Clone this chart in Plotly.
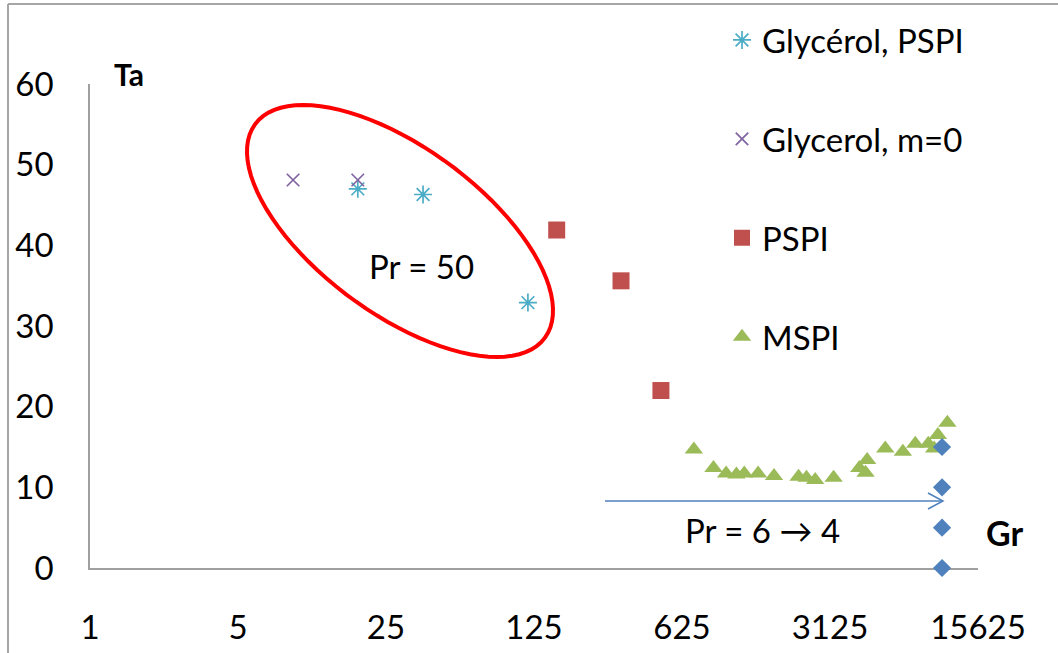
import math
import plotly.graph_objects as go

# ---- data -------------------------------------------------------------
gly_pspi_gr = [18.4, 37.4, 117]
gly_pspi_ta = [47.0, 46.3, 32.9]

gly_m0_gr = [9.1, 18.4]
gly_m0_ta = [48.1, 48.1]

pspi_gr = [160, 322, 497]
pspi_ta = [41.9, 35.6, 22.0]

mspi_gr = [711, 880, 1010, 1130, 1230, 1430, 1700, 2220, 2420, 2660, 3250,
           4300, 4600, 4680, 5700, 6900, 7900, 9100, 9700, 10100, 11200]
mspi_ta = [14.7, 12.4, 11.7, 11.6, 11.7, 11.7, 11.4, 11.3, 11.2, 10.9, 11.2,
           12.4, 11.8, 13.4, 14.8, 14.4, 15.4, 15.4, 14.8, 16.5, 18.0]

ref_gr = [10570, 10570, 10570, 10570]
ref_ta = [0, 5, 10, 15]

x_ticks = [1, 5, 25, 125, 625, 3125, 15625]
x_tick_text = ["1", "5", "25", "125", "625", "3125", "15625"]
y_ticks = [0, 10, 20, 30, 40, 50, 60]

# ---- layout geometry -------------------------------------------------
W, H = 1058, 653
ML, MR, MT, MB = 90, 80, 84, 85
PW, PH = W - ML - MR, H - MT - MB
FONT = "Lato"
TXT = 33


def paper(px, py):
    """Convert page pixels into paper coordinates."""
    return (px - ML) / PW, (H - MB - py) / PH


def ellipse_path(cx, cy, a, b, deg, n=90):
    t = math.radians(deg)
    pts = []
    for i in range(n + 1):
        s = 2 * math.pi * i / n
        ex, ey = a * math.cos(s), b * math.sin(s)
        px = cx + ex * math.cos(t) - ey * math.sin(t)
        py = cy + ex * math.sin(t) + ey * math.cos(t)
        pts.append(paper(px, py))
    return "M " + " L ".join(f"{x:.5f},{y:.5f}" for x, y in pts) + " Z"


def polyline(points):
    pts = [paper(x, y) for x, y in points]
    return "M " + " L ".join(f"{x:.5f},{y:.5f}" for x, y in pts)


def label(text, px, py, size):
    x, y = paper(px, py)
    return dict(text=text, xref="paper", yref="paper", x=x, y=y,
                xanchor="center", yanchor="middle", showarrow=False,
                font=dict(family=FONT, size=size, color="#000"))


fig = go.Figure()

fig.add_trace(go.Scatter(
    x=gly_pspi_gr, y=gly_pspi_ta, mode="markers", name="Glycérol, PSPI",
    legendgroup="a",
    marker=dict(symbol="asterisk-open", size=15, color="#4bacc6",
                line=dict(width=1.7, color="#4bacc6"))))
fig.add_trace(go.Scatter(
    x=gly_m0_gr, y=gly_m0_ta, mode="markers", name="Glycerol, m=0",
    legendgroup="b",
    marker=dict(symbol="x-thin-open", size=12.5, color="#8064a2",
                line=dict(width=1.7, color="#8064a2"))))
fig.add_trace(go.Scatter(
    x=pspi_gr, y=pspi_ta, mode="markers", name="PSPI", legendgroup="c",
    marker=dict(symbol="square", size=17, color="#c0504d")))
fig.add_trace(go.Scatter(
    x=mspi_gr, y=mspi_ta, mode="markers", name="MSPI", legendgroup="d",
    marker=dict(symbol="triangle-up", size=16, color="#9bbb59")))
fig.add_trace(go.Scatter(
    x=ref_gr, y=ref_ta, mode="markers", name="Pr 6-4", showlegend=False,
    marker=dict(symbol="diamond", size=14, color="#4f81bd"),
    cliponaxis=False))

shapes = [
    # outer chart frame (left and top edges)
    dict(type="line", xref="paper", yref="paper",
         x0=paper(8, 0)[0], x1=paper(8, 0)[0], y0=paper(0, 4)[1], y1=paper(0, 660)[1],
         line=dict(color="#a6a6a6", width=2)),
    dict(type="line", xref="paper", yref="paper",
         x0=paper(8, 0)[0], x1=paper(1070, 0)[0], y0=paper(0, 4)[1], y1=paper(0, 4)[1],
         line=dict(color="#a6a6a6", width=2)),
    # ellipse around the Pr = 50 group
    dict(type="path", xref="paper", yref="paper",
         path=ellipse_path(400, 231, 180, 83, 36.4),
         line=dict(color="#ff0000", width=4)),
    # arrow for Pr = 6 -> 4
    dict(type="path", xref="paper", yref="paper",
         path=polyline([(605, 501), (942, 501)]),
         line=dict(color="#4f81bd", width=1.5)),
    dict(type="path", xref="paper", yref="paper",
         path=polyline([(928, 493), (943, 501), (928, 509)]),
         line=dict(color="#4f81bd", width=1.5)),
]

annotations = [
    label("<b>Ta</b>", 129, 74, TXT - 3),
    label("<b>Gr</b>", 1004, 532, TXT + 1),
    label("Pr = 50", 421, 266, TXT),
    label("Pr = 6 \u2192 4", 762, 530, TXT),
]

lx, ly = paper(722, 12)

fig.update_layout(
    width=W, height=H,
    margin=dict(l=ML, r=MR, t=MT, b=MB, autoexpand=False),
    paper_bgcolor="white", plot_bgcolor="white",
    font=dict(family=FONT, size=TXT, color="#000"),
    shapes=shapes, annotations=annotations,
    showlegend=True,
    legend=dict(x=lx, y=ly, xanchor="left", yanchor="top",
                bgcolor="rgba(255,255,255,0)", tracegroupgap=53,
                itemwidth=30, maxheight=620,
                font=dict(family=FONT, size=TXT, color="#000")),
    xaxis=dict(type="log", range=[0, math.log10(15625)],
               tickvals=x_ticks, ticktext=x_tick_text,
               showgrid=False, zeroline=False, showline=True,
               linecolor="#a0a0a0", linewidth=1.5, ticks="",
               layer="below traces",
               ticklabelstandoff=30, automargin=False,
               tickfont=dict(family=FONT, size=TXT, color="#000")),
    yaxis=dict(range=[0, 60], tickvals=y_ticks,
               showgrid=False, zeroline=False, showline=True,
               linecolor="#a0a0a0", linewidth=1.5, ticks="",
               layer="below traces",
               ticklabelstandoff=28, automargin=False,
               tickfont=dict(family=FONT, size=TXT, color="#000")),
)

fig.write_html("out.html")
